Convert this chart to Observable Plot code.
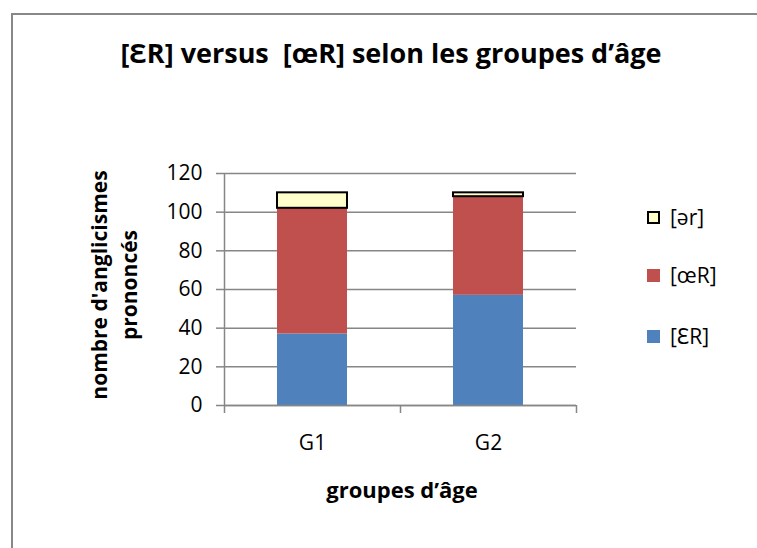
<!DOCTYPE html>
<html>
<head>
<meta charset="utf-8">
<script src="https://cdn.jsdelivr.net/npm/d3@7"></script>
<script src="https://cdn.jsdelivr.net/npm/@observablehq/plot@0.6"></script>
<style>
  body { margin: 0; background: #fff; }
  #wrap { position: relative; width: 757px; height: 548px; overflow: hidden; font-family: "Open Sans", "Noto Sans", sans-serif; color: #000; }
  #border { position: absolute; left: 11px; top: 13px; width: 900px; height: 700px; border-left: 2px solid #888; border-top: 2px solid #888; }
  #chart { position: absolute; left: 0; top: 0; }
  .title { position: absolute; left: 0; width: 782px; top: 34px; text-align: center; font-weight: bold; font-size: 27px; white-space: pre; }
  .xtitle { position: absolute; left: 302px; width: 200px; top: 474px; text-align: center; font-weight: bold; font-size: 22px; }
  .ytitle { position: absolute; left: 114px; top: 285px; width: 300px; margin-left: -150px; margin-top: -30px; line-height: 30px; text-align: center; font-weight: bold; font-size: 21px; transform: rotate(-90deg); }
  .legend { position: absolute; left: 647px; top: 0; }
  .legend .item { position: absolute; left: 0; white-space: nowrap; font-size: 21px; height: 24px; line-height: 24px; }
  .legend .sw { display: inline-block; width: 13px; height: 13px; vertical-align: middle; margin-right: 10px; box-sizing: border-box; position: relative; top: -2px; }
  svg text { fill: #000; }
</style>
</head>
<body>
<div id="wrap">
  <div id="border"></div>
  <div id="chart"></div>
</div>
<script>
// ---- data ----
const groups = ["G1", "G2"];
const series = ["[ƐR]", "[œR]", "[ər]"];
const valuesER = [37, 57];   // [ƐR]
const valuesOER = [65, 51];  // [œR]
const valuesSchwa = [8, 2];  // [ər]
const colors = ["#4F81BD", "#C0504D", "#FFFFCC"];
const yTicks = [0, 20, 40, 60, 80, 100, 120];
const titleText = "[ƐR] versus  [œR] selon les groupes d’âge";
const xTitle = "groupes d’âge";
const yTitleLines = ["nombre d'anglicismes", "prononcés"];

const seriesValues = [valuesER, valuesOER, valuesSchwa];
const rows = [];
groups.forEach((g, gi) => {
  series.forEach((s, si) => rows.push({group: g, series: s, value: seriesValues[si][gi], outline: si === 2 ? 1 : 0}));
});

const W = 757, H = 548, mL = 224, mR = 181, mT = 173, mB = 143;
const bw = (W - mL - mR) / groups.length;
const barInset = (bw - 70) / 2;
const gray = "#868686";

const chart = Plot.plot({
  width: W, height: H,
  marginLeft: mL, marginRight: mR, marginTop: mT, marginBottom: mB,
  style: {fontSize: "21px", fontFamily: "'Open Sans', 'Noto Sans', sans-serif", color: "#000", background: "transparent"},
  x: {domain: groups, padding: 0, label: null},
  y: {domain: [0, 120], label: null},
  color: {domain: series, range: colors},
  opacity: {type: "identity"},
  marks: [
    Plot.gridY(yTicks, {stroke: gray, strokeOpacity: 1, strokeWidth: 1.5}),
    Plot.barY(rows, {x: "group", y: "value", fill: "series", stroke: "#000", strokeWidth: 2, strokeOpacity: "outline", insetLeft: barInset, insetRight: barInset}),
    Plot.ruleY([0], {stroke: gray, strokeWidth: 1.5}),
    Plot.ruleX([groups[0]], {dx: -bw / 2, stroke: gray, strokeWidth: 1.5}),
    Plot.ruleX(groups, {dx: -bw / 2, y1: 0, y2: 0, insetBottom: -8, stroke: gray, strokeWidth: 1.5}),
    Plot.ruleX([groups[groups.length - 1]], {dx: bw / 2, y1: 0, y2: 0, insetBottom: -8, stroke: gray, strokeWidth: 1.5}),
    Plot.axisY(yTicks, {tickSize: 8, tickPadding: 14, stroke: gray, strokeWidth: 1.5, label: null}),
    Plot.axisX({tickSize: 0, tickPadding: 30, label: null})
  ]
});
document.getElementById("chart").appendChild(chart);

const wrap = document.getElementById("wrap");
const t = document.createElement("div"); t.className = "title"; t.textContent = titleText; wrap.appendChild(t);
const xt = document.createElement("div"); xt.className = "xtitle"; xt.textContent = xTitle; wrap.appendChild(xt);
const yt = document.createElement("div"); yt.className = "ytitle"; yt.innerHTML = yTitleLines.map(l => `<div>${l}</div>`).join(""); wrap.appendChild(yt);

const colorScale = chart.scale("color");
const legend = document.createElement("div"); legend.className = "legend";
const legendY = [205, 263, 324];
series.slice().reverse().forEach((s, i) => {
  const item = document.createElement("div"); item.className = "item"; item.style.top = legendY[i] + "px";
  const sw = document.createElement("span"); sw.className = "sw";
  const ci = colorScale.domain.indexOf(s);
  sw.style.background = colorScale.range[ci];
  if (s === series[2]) sw.style.border = "2px solid #000";
  item.appendChild(sw);
  item.appendChild(document.createTextNode(s));
  legend.appendChild(item);
});
wrap.appendChild(legend);
</script>
</body>
</html>
